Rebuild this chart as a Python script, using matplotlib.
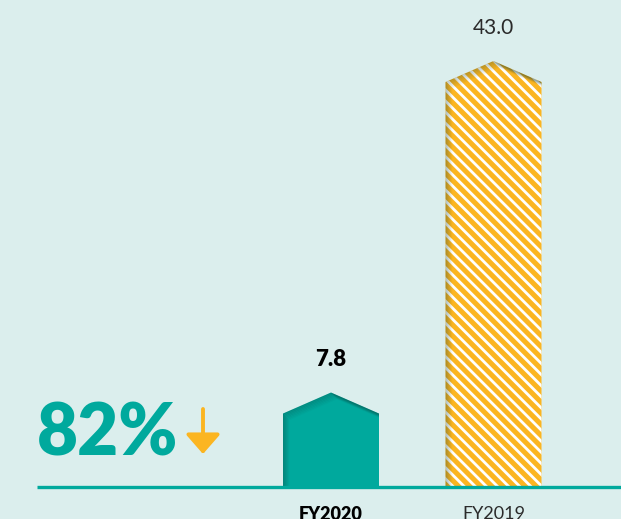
import numpy as np
import matplotlib.pyplot as plt
from matplotlib.patches import Polygon

categories = ['FY2020', 'FY2019']
values = [7.8, 43.0]
change_label = '82%'

bg = '#dbeeed'
teal = '#00a99d'
yellow = '#fbb521'

W, H = 621, 519
fig = plt.figure(figsize=(W / 100, H / 100), dpi=100, facecolor=bg)
ax = fig.add_axes([0, 0, 1, 1])
ax.set_facecolor(bg)

# pixel scale of the axes
px_y = 405 / 43.0          # pixels per unit on y
px_x = 162.5               # pixels per category step
base_px = 32               # baseline height from bottom
ax.set_ylim(-base_px / px_y, (H - base_px) / px_y)
ax.set_xlim(-331 / px_x, (W - 331) / px_x)
ax.axis('off')

dx = 1 / px_x
dy = 1 / px_y
half_w = 48 * dx
roof = 21 * dy

plt.rcParams['hatch.color'] = 'white'
plt.rcParams['hatch.linewidth'] = 2.0


def house(ax, x, v, face, hatch=None):
    pts = [(x - half_w, 0), (x - half_w, v), (x, v + roof),
           (x + half_w, v), (x + half_w, 0)]
    p = Polygon(pts, closed=True, facecolor=face, linewidth=0,
                hatch=hatch, zorder=2)
    ax.add_patch(p)
    # soft inner shadow along the left wall and roof
    for k in range(7):
        sx = np.array([x - half_w, x - half_w, x, x + half_w]) + k * dx
        sy = np.array([0, v, v + roof, v]) - k * dy
        sy[0] = 0
        ln, = ax.plot(sx, sy, color='#0b3b36', lw=1.2,
                      alpha=0.22 * (1 - k / 7), zorder=3,
                      solid_capstyle='butt')
        ln.set_clip_path(p)
    return p


house(ax, 0, values[0], teal)
house(ax, 1, values[1], yellow, hatch='\\\\\\')

# baseline
ax.plot([(37 - 331) / px_x, (W - 331) / px_x], [0, 0], color=teal,
        lw=2.4, zorder=4, solid_capstyle='butt')

# value labels
ax.text(0, values[0] + roof + 23 * dy, f'{values[0]:.1f}', ha='center',
        va='bottom', fontsize=16, fontweight='heavy', color='black',
        family='Lato')
ax.text(1, values[1] + roof + 23 * dy, f'{values[1]:.1f}', ha='center',
        va='bottom', fontsize=15, color='#2a2a2a', family='Lato')

# category labels
ax.text(0, -19 * dy, categories[0], ha='center', va='top', fontsize=13,
        fontweight='heavy', color='black', family='Lato')
ax.text(1, -19 * dy, categories[1], ha='center', va='top', fontsize=13,
        color='#2a2a2a', family='Lato')

# headline change with arrow
fig.text(37 / W, 1 - 455 / H, change_label, ha='left', va='baseline',
         fontsize=51, fontweight='heavy', color=teal, family='Lato')
ax.annotate('', xy=(203 / W, 1 - 454 / H), xytext=(203 / W, 1 - 409 / H),
            xycoords='figure fraction', textcoords='figure fraction',
            arrowprops=dict(arrowstyle='-|>,head_length=1.2,head_width=1.05',
                            color=yellow, lw=2.8, shrinkA=0, shrinkB=0))

fig.savefig('out.png', dpi=100, facecolor=bg)
